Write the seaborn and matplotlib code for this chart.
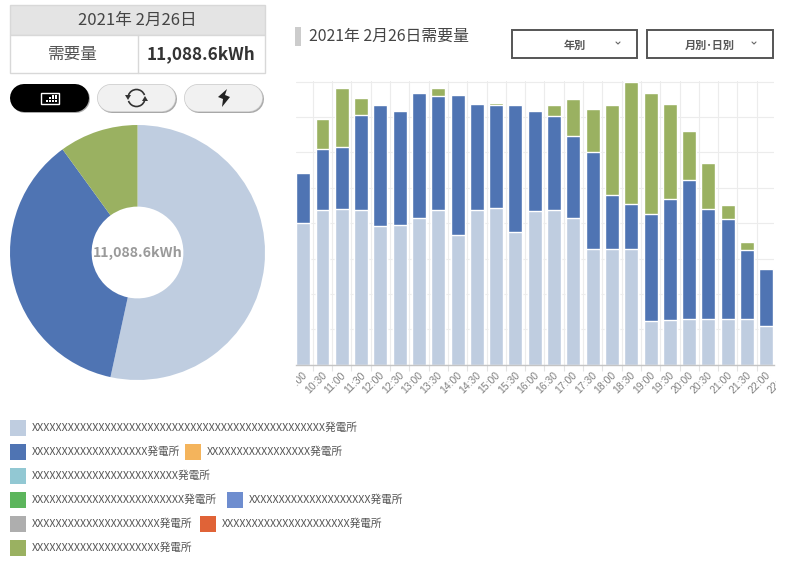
import numpy as np
import pandas as pd
import seaborn as sns
import matplotlib
matplotlib.use('Agg')
import matplotlib.pyplot as plt
from matplotlib.patches import Rectangle, Arc, Polygon
from matplotlib.transforms import Bbox

sns.set_theme(style='whitegrid')
plt.rcParams['font.family'] = ['Noto Sans CJK JP', 'DejaVu Sans']

# horas (la primera y la ultima etiqueta salen cortadas en el original)
times = ['10:00', '10:30', '11:00', '11:30', '12:00', '12:30', '13:00', '13:30', '14:00',
         '14:30', '15:00', '15:30', '16:00', '16:30', '17:00', '17:30', '18:00', '18:30',
         '19:00', '19:30', '20:00', '20:30', '21:00', '21:30', '22:00']
last_label = '22:30'

# valores (kWh)
light = [240, 262, 264, 262, 236, 237, 249, 262, 220, 262, 265, 225, 260,
         262, 248, 196, 197, 197, 75, 76, 78, 78, 78, 77, 65]
blue = [85, 103, 105, 161, 205, 194, 211, 193, 238, 180, 175, 216, 171,
        159, 139, 164, 90, 76, 181, 205, 236, 186, 169, 117, 97]
green = [0, 51, 100, 29, 0, 0, 0, 14, 0, 0, 3, 0, 0,
         20, 64, 74, 153, 206, 204, 161, 82, 78, 23, 14, 0]

pie_values = [5921.3, 4058.4, 1108.9]
total_label = '11,088.6kWh'

legend_colors = ['#bfcde0', '#4f74b3', '#f4b45c', '#92c8d3', '#5cb55c',
                 '#6e8dcf', '#aeaeae', '#e06337', '#9ab161']
legend_x_counts = [48, 19, 17, 24, 25, 20, 21, 21, 21]
legend_pos = [(10, 428), (10, 452), (185, 452), (10, 476), (10, 500),
              (227, 500), (10, 524), (200, 524), (10, 548)]

c_light, c_blue, c_green = legend_colors[0], legend_colors[1], legend_colors[8]

W, H = 786, 563
fig = plt.figure(figsize=(W / 100, H / 100), dpi=100, facecolor='white')


def px_axes(x0, y0, x1, y1):
    return fig.add_axes([x0 / W, 1 - y1 / H, (x1 - x0) / W, (y1 - y0) / H])


# grafico de barras apiladas
ax = px_axes(296.2, 81.3, 773.5, 364.8)
df = pd.DataFrame({'time': times, 'light': light, 'blue': blue, 'green': green})
df['t2'] = df['light'] + df['blue']
df['t3'] = df['t2'] + df['green']
for col, color in [('t3', c_green), ('t2', c_blue), ('light', c_light)]:
    sns.barplot(data=df, x='time', y=col, color=color, saturation=1, width=0.725, ax=ax)
ax.set_xlabel('')
ax.set_ylabel('')
ax.set_yticks(np.arange(0, 481, 60))
ax.set_xticks(np.arange(len(times)) - 0.5)
ax.set_xticklabels([])
ax.set_xlim(-0.363, 24.37)
ax.set_ylim(0, 480.5)
ax.tick_params(axis='y', left=False, labelleft=False)
ax.tick_params(axis='x', bottom=True, length=4, color='#e2e2e2', width=0.8)
ax.grid(True, color='#ececec', linewidth=0.8)
ax.set_axisbelow(True)
for side in ['top', 'left', 'right']:
    ax.spines[side].set_visible(False)
ax.spines['bottom'].set_color('#c4c4c4')
ax.spines['bottom'].set_linewidth(1)

# etiquetas giradas, recortadas en los bordes
clip = Bbox([[296, 0], [776, H]])
for i, lab in enumerate(times + [last_label]):
    t = ax.annotate(lab, xy=(i - 0.05, 0), xycoords=ax.get_xaxis_transform(), xytext=(0, -4),
                    textcoords='offset points', rotation=45, ha='right', va='top',
                    rotation_mode='anchor', fontsize=7.5, family='Liberation Sans',
                    color='#808080', annotation_clip=False)
    t.set_clip_box(clip)
    t.set_clip_on(True)

# circular
pie_ax = px_axes(10, 125, 265, 380)
pie_ax.pie(pie_values, colors=[c_light, c_blue, c_green], startangle=90, counterclock=False,
           radius=1, wedgeprops={'width': 0.64, 'linewidth': 0})
pie_ax.set_xlim(-1, 1)
pie_ax.set_ylim(-1, 1)
pie_ax.text(0, 0, total_label, ha='center', va='center', fontsize=10.2,
            fontweight='bold', color='#9a9a9a')

# capa en pixeles para cabecera, botones y leyenda
ui = fig.add_axes([0, 0, 1, 1], zorder=-1)
ui.set_xlim(0, W)
ui.set_ylim(H, 0)
ui.axis('off')

ui.add_patch(Rectangle((10, 5), 255, 30, fc='#e4e4e4', ec='#d8d8d8', lw=1))
ui.add_patch(Rectangle((10, 35), 255, 38, fc='white', ec='#d8d8d8', lw=1))
ui.plot([137.5, 137.5], [35, 73], color='#d8d8d8', lw=1)
ui.text(137, 20, '2021年 2月26日', ha='center', va='center', fontsize=12, color='#444444')
ui.text(73, 54, '需要量', ha='center', va='center', fontsize=12, color='#555555')
ui.text(201, 54, total_label, ha='center', va='center', fontsize=12.3, fontweight='bold', color='#333333')

# botones: lineas gruesas con punta redonda (1 px = 0.72 pt)
for x0, fc, ec in [(10, 'black', 'black'), (97, '#f1f1f1', '#cccccc'), (184, '#f1f1f1', '#cccccc')]:
    xs = [x0 + 14, x0 + 65]
    ui.plot([xs[0] + 1, xs[1] + 1], [99, 99], color='#a8a8a8', lw=28 * 0.72, solid_capstyle='round')
    ui.plot(xs, [98, 98], color=ec, lw=28 * 0.72, solid_capstyle='round')
    ui.plot(xs, [98, 98], color=fc, lw=26.5 * 0.72, solid_capstyle='round')
ui.add_patch(Rectangle((41, 93), 18, 11, fc='black', ec='white', lw=1, zorder=5))
for dx, dy in [(47, 101), (50, 101), (53, 101), (56, 101), (50, 98), (53, 98), (56, 98), (53, 95.5), (56, 95.5)]:
    ui.add_patch(Rectangle((dx - 1, dy - 1), 2, 2, fc='white', ec='none', zorder=6))
ui.add_patch(Arc((136.5, 98), 17, 17, theta1=200, theta2=340, color='#333333', lw=1.2, zorder=5))
ui.add_patch(Arc((136.5, 98), 17, 17, theta1=20, theta2=160, color='#333333', lw=1.2, zorder=5))
ui.add_patch(Polygon([[125, 95], [131, 95], [128, 100]], fc='#333333', ec='none', zorder=5))
ui.add_patch(Polygon([[142, 101], [148, 101], [145, 96]], fc='#333333', ec='none', zorder=5))
ui.add_patch(Polygon([[227, 89], [218, 97], [223, 99], [222, 107], [230, 97], [225, 95]],
                     fc='#222222', ec='none', zorder=5))

# titulo y desplegables
ui.add_patch(Rectangle((295, 27), 6, 19, fc='#cccccc', ec='none'))
ui.text(309, 36, '2021年 2月26日需要量', ha='left', va='center', fontsize=11.4, color='#444444')
for x0, x1, lab, tx in [(511.5, 637, '年別', 575), (646.5, 773, '月別･日別', 710)]:
    ui.add_patch(Rectangle((x0, 29.5), x1 - x0, 28.5, fc='white', ec='#555555', lw=1.4))
    ui.text(tx, 45, lab, ha='center', va='center', fontsize=8, color='#555555', fontweight='bold')
    ui.plot([x1 - 21, x1 - 19, x1 - 17], [42, 44, 42], color='#666666', lw=0.8)

# leyenda
for (x, y), col, n in zip(legend_pos, legend_colors, legend_x_counts):
    ui.add_patch(Rectangle((x, y - 8), 16, 16, fc=col, ec='none'))
    ui.text(x + 22, y, 'X' * n + '発電所', ha='left', va='center', fontsize=7.7, color='#555555')

fig.savefig('out.png', dpi=100)
